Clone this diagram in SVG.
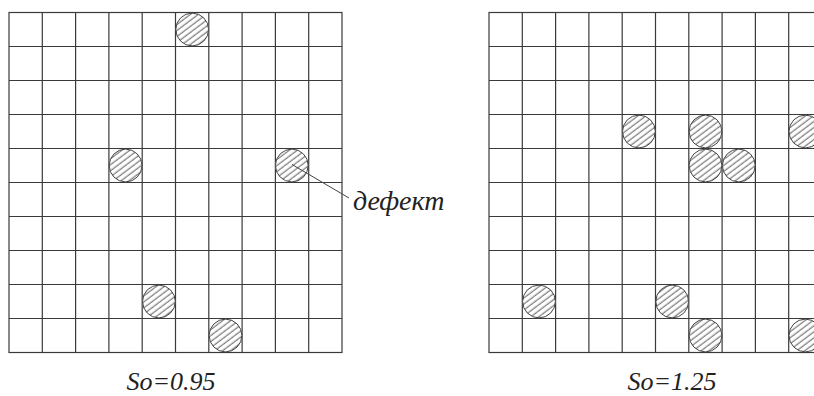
<svg xmlns="http://www.w3.org/2000/svg" width="814" height="396" viewBox="0 0 814 396">
  <style>
    .defect { fill: url(#hatch); stroke: #444; stroke-width: 1; }
    .label { font-family: "Liberation Serif", "DejaVu Serif", serif; font-style: italic; fill: #222; }
    .leader { stroke: #444; stroke-width: 1; fill: none; }
  </style>
  <defs>
    <pattern id="hatch" patternUnits="userSpaceOnUse" width="8" height="4.8" patternTransform="rotate(-37)">
      <rect width="8" height="4.8" fill="#fff"/>
      <line x1="0" y1="1.2" x2="8" y2="1.2" stroke="#3c3c3c" stroke-width="0.85"/>
    </pattern>
    <g id="gridlines" stroke="#3a3a3a" stroke-width="1.2" fill="none">
      <rect x="0" y="0" width="333" height="340" fill="none"/>
      <line x1="33.3" y1="0" x2="33.3" y2="340"/>
      <line x1="66.6" y1="0" x2="66.6" y2="340"/>
      <line x1="99.9" y1="0" x2="99.9" y2="340"/>
      <line x1="133.2" y1="0" x2="133.2" y2="340"/>
      <line x1="166.5" y1="0" x2="166.5" y2="340"/>
      <line x1="199.8" y1="0" x2="199.8" y2="340"/>
      <line x1="233.1" y1="0" x2="233.1" y2="340"/>
      <line x1="266.4" y1="0" x2="266.4" y2="340"/>
      <line x1="299.7" y1="0" x2="299.7" y2="340"/>
      <line x1="0" y1="34" x2="333" y2="34"/>
      <line x1="0" y1="68" x2="333" y2="68"/>
      <line x1="0" y1="102" x2="333" y2="102"/>
      <line x1="0" y1="136" x2="333" y2="136"/>
      <line x1="0" y1="170" x2="333" y2="170"/>
      <line x1="0" y1="204" x2="333" y2="204"/>
      <line x1="0" y1="238" x2="333" y2="238"/>
      <line x1="0" y1="272" x2="333" y2="272"/>
      <line x1="0" y1="306" x2="333" y2="306"/>
    </g>
  </defs>

  <rect width="814" height="396" fill="#fff"/>

  <g id="grid-left">
    <use href="#gridlines" x="9" y="12.5"/>
  </g>
  <g id="grid-right">
    <use href="#gridlines" x="489" y="12.5"/>
  </g>

  <g id="defects-left">
    <circle class="defect" cx="192.2" cy="29.5" r="16.4"/>
    <circle class="defect" cx="125.6" cy="165.5" r="16.4"/>
    <circle class="defect" cx="291.8" cy="165.5" r="16.4"/>
    <circle class="defect" cx="158.9" cy="301.5" r="16.4"/>
    <circle class="defect" cx="225.5" cy="335.5" r="16.4"/>
  </g>

  <g id="defects-right">
    <circle class="defect" cx="638.9" cy="131.5" r="16.4"/>
    <circle class="defect" cx="705.5" cy="131.5" r="16.4"/>
    <circle class="defect" cx="805.4" cy="131.5" r="16.4"/>
    <circle class="defect" cx="705.5" cy="165.5" r="16.4"/>
    <circle class="defect" cx="738.8" cy="165.5" r="16.4"/>
    <circle class="defect" cx="539.0" cy="301.5" r="16.4"/>
    <circle class="defect" cx="672.2" cy="301.5" r="16.4"/>
    <circle class="defect" cx="705.5" cy="335.5" r="16.4"/>
    <circle class="defect" cx="805.4" cy="335.5" r="16.4"/>
  </g>

  <g id="connectors">
    <line class="leader" x1="292" y1="164.5" x2="349" y2="198"/>
  </g>

  <g id="label-defect">
    <text class="label" x="353" y="210" font-size="28">дефект</text>
  </g>
  <g id="label-left">
    <text class="label" x="171" y="390" font-size="26" text-anchor="middle">So=0.95</text>
  </g>
  <g id="label-right">
    <text class="label" x="672" y="390" font-size="26" text-anchor="middle">So=1.25</text>
  </g>
</svg>
